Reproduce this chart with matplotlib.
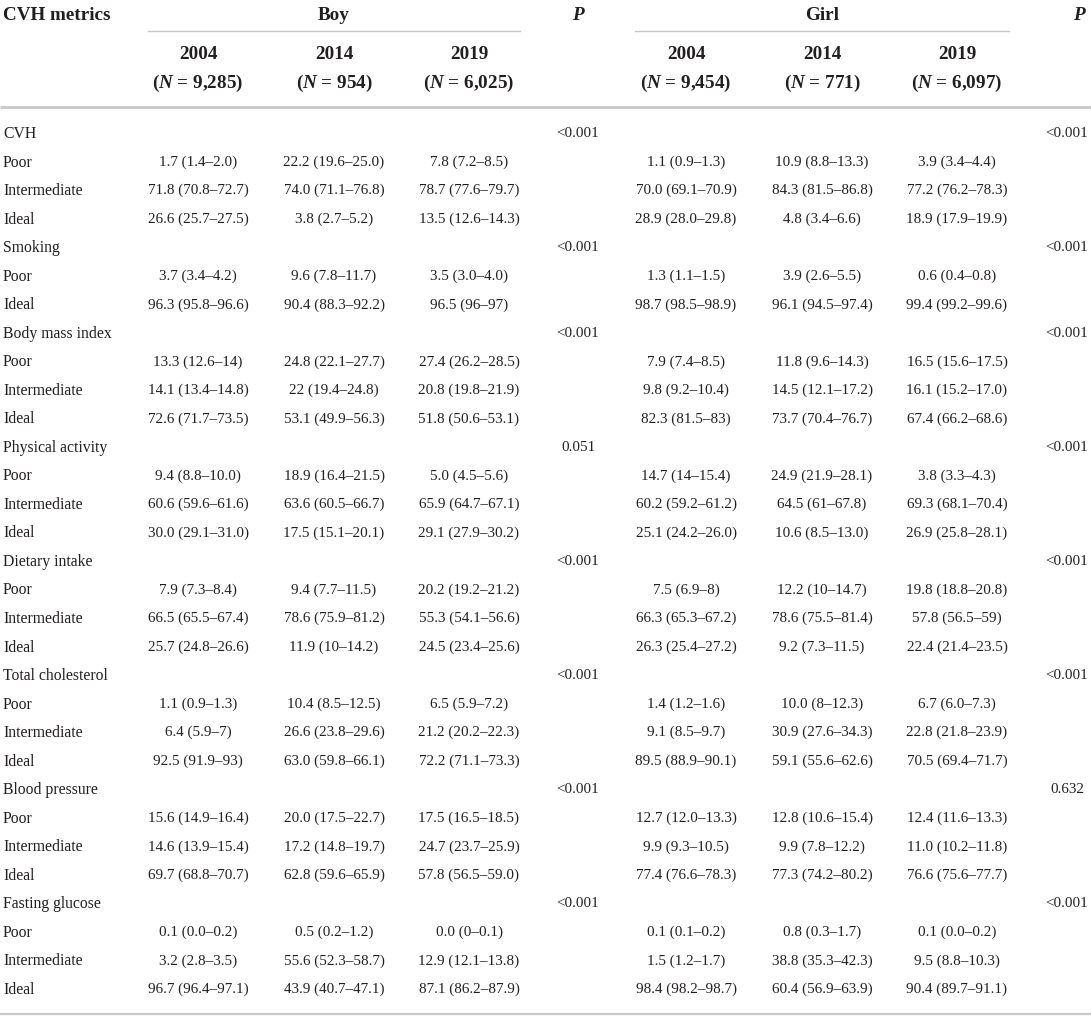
"""CVH metrics by sex and survey year, drawn as a plain text table."""
import matplotlib
matplotlib.use("Agg")
import matplotlib.pyplot as plt

plt.rcParams.update({"font.family": "Liberation Serif",
                     "mathtext.fontset": "custom",
                     "mathtext.it": "Liberation Serif:italic:bold",
                     "mathtext.rm": "Liberation Serif:bold"})

# ---------------- data ----------------
metrics = ["CVH", "Smoking", "Body mass index", "Physical activity",
           "Dietary intake", "Total cholesterol", "Blood pressure", "Fasting glucose"]
levels = [["Poor", "Intermediate", "Ideal"], ["Poor", "Ideal"]] + \
         [["Poor", "Intermediate", "Ideal"]] * 6
p_boy  = ["<0.001", "<0.001", "<0.001", "0.051", "<0.001", "<0.001", "<0.001", "<0.001"]
p_girl = ["<0.001", "<0.001", "<0.001", "<0.001", "<0.001", "<0.001", "0.632", "<0.001"]

years = ["2004", "2014", "2019"]
n_boy  = ["9,285", "954", "6,025"]
n_girl = ["9,454", "771", "6,097"]

boy_2004 = ["1.7 (1.4–2.0)", "71.8 (70.8–72.7)", "26.6 (25.7–27.5)",
            "3.7 (3.4–4.2)", "96.3 (95.8–96.6)",
            "13.3 (12.6–14)", "14.1 (13.4–14.8)", "72.6 (71.7–73.5)",
            "9.4 (8.8–10.0)", "60.6 (59.6–61.6)", "30.0 (29.1–31.0)",
            "7.9 (7.3–8.4)", "66.5 (65.5–67.4)", "25.7 (24.8–26.6)",
            "1.1 (0.9–1.3)", "6.4 (5.9–7)", "92.5 (91.9–93)",
            "15.6 (14.9–16.4)", "14.6 (13.9–15.4)", "69.7 (68.8–70.7)",
            "0.1 (0.0–0.2)", "3.2 (2.8–3.5)", "96.7 (96.4–97.1)"]
boy_2014 = ["22.2 (19.6–25.0)", "74.0 (71.1–76.8)", "3.8 (2.7–5.2)",
            "9.6 (7.8–11.7)", "90.4 (88.3–92.2)",
            "24.8 (22.1–27.7)", "22 (19.4–24.8)", "53.1 (49.9–56.3)",
            "18.9 (16.4–21.5)", "63.6 (60.5–66.7)", "17.5 (15.1–20.1)",
            "9.4 (7.7–11.5)", "78.6 (75.9–81.2)", "11.9 (10–14.2)",
            "10.4 (8.5–12.5)", "26.6 (23.8–29.6)", "63.0 (59.8–66.1)",
            "20.0 (17.5–22.7)", "17.2 (14.8–19.7)", "62.8 (59.6–65.9)",
            "0.5 (0.2–1.2)", "55.6 (52.3–58.7)", "43.9 (40.7–47.1)"]
boy_2019 = ["7.8 (7.2–8.5)", "78.7 (77.6–79.7)", "13.5 (12.6–14.3)",
            "3.5 (3.0–4.0)", "96.5 (96–97)",
            "27.4 (26.2–28.5)", "20.8 (19.8–21.9)", "51.8 (50.6–53.1)",
            "5.0 (4.5–5.6)", "65.9 (64.7–67.1)", "29.1 (27.9–30.2)",
            "20.2 (19.2–21.2)", "55.3 (54.1–56.6)", "24.5 (23.4–25.6)",
            "6.5 (5.9–7.2)", "21.2 (20.2–22.3)", "72.2 (71.1–73.3)",
            "17.5 (16.5–18.5)", "24.7 (23.7–25.9)", "57.8 (56.5–59.0)",
            "0.0 (0–0.1)", "12.9 (12.1–13.8)", "87.1 (86.2–87.9)"]
girl_2004 = ["1.1 (0.9–1.3)", "70.0 (69.1–70.9)", "28.9 (28.0–29.8)",
             "1.3 (1.1–1.5)", "98.7 (98.5–98.9)",
             "7.9 (7.4–8.5)", "9.8 (9.2–10.4)", "82.3 (81.5–83)",
             "14.7 (14–15.4)", "60.2 (59.2–61.2)", "25.1 (24.2–26.0)",
             "7.5 (6.9–8)", "66.3 (65.3–67.2)", "26.3 (25.4–27.2)",
             "1.4 (1.2–1.6)", "9.1 (8.5–9.7)", "89.5 (88.9–90.1)",
             "12.7 (12.0–13.3)", "9.9 (9.3–10.5)", "77.4 (76.6–78.3)",
             "0.1 (0.1–0.2)", "1.5 (1.2–1.7)", "98.4 (98.2–98.7)"]
girl_2014 = ["10.9 (8.8–13.3)", "84.3 (81.5–86.8)", "4.8 (3.4–6.6)",
             "3.9 (2.6–5.5)", "96.1 (94.5–97.4)",
             "11.8 (9.6–14.3)", "14.5 (12.1–17.2)", "73.7 (70.4–76.7)",
             "24.9 (21.9–28.1)", "64.5 (61–67.8)", "10.6 (8.5–13.0)",
             "12.2 (10–14.7)", "78.6 (75.5–81.4)", "9.2 (7.3–11.5)",
             "10.0 (8–12.3)", "30.9 (27.6–34.3)", "59.1 (55.6–62.6)",
             "12.8 (10.6–15.4)", "9.9 (7.8–12.2)", "77.3 (74.2–80.2)",
             "0.8 (0.3–1.7)", "38.8 (35.3–42.3)", "60.4 (56.9–63.9)"]
girl_2019 = ["3.9 (3.4–4.4)", "77.2 (76.2–78.3)", "18.9 (17.9–19.9)",
             "0.6 (0.4–0.8)", "99.4 (99.2–99.6)",
             "16.5 (15.6–17.5)", "16.1 (15.2–17.0)", "67.4 (66.2–68.6)",
             "3.8 (3.3–4.3)", "69.3 (68.1–70.4)", "26.9 (25.8–28.1)",
             "19.8 (18.8–20.8)", "57.8 (56.5–59)", "22.4 (21.4–23.5)",
             "6.7 (6.0–7.3)", "22.8 (21.8–23.9)", "70.5 (69.4–71.7)",
             "12.4 (11.6–13.3)", "11.0 (10.2–11.8)", "76.6 (75.6–77.7)",
             "0.1 (0.0–0.2)", "9.5 (8.8–10.3)", "90.4 (89.7–91.1)"]

# ---------------- layout (pixel units) ----------------
W, H = 1091, 1019
X_LABEL = 3
X_BOY = [198, 334, 469]
X_GIRL = [686, 822, 957]
X_PB, X_PG = 578, 1067
ROW0, ROWH = 132, 28.53
TXT = "#231f20"
LINE = "#c8c8c8"
FS_HEAD, FS_BODY, FS_LAB = 13.8, 10.9, 11.3

fig = plt.figure(figsize=(W / 100, H / 100), dpi=100)
ax = fig.add_axes([0, 0, 1, 1])
ax.set_xlim(0, W); ax.set_ylim(H, 0); ax.axis("off")

def txt(x, y, s, ha="center", size=FS_BODY, **kw):
    ax.text(x, y, s, ha=ha, va="center_baseline", fontsize=size, color=TXT, **kw)

# header
txt(X_LABEL, 13, "CVH metrics", ha="left", size=FS_HEAD, weight="bold")
txt(X_BOY[1], 13, "Boy", size=FS_HEAD, weight="bold")
txt(X_GIRL[1], 13, "Girl", size=FS_HEAD, weight="bold")
for xp in (X_PB, 1079):
    txt(xp, 13, "P", size=FS_HEAD, weight="bold", style="italic")
ax.plot([148, 520], [31, 31], color=LINE, lw=1.0)
ax.plot([635, 1009], [31, 31], color=LINE, lw=1.0)
for xs, ns in ((X_BOY, n_boy), (X_GIRL, n_girl)):
    for x, yr, n in zip(xs, years, ns):
        txt(x, 52, yr, size=FS_HEAD, weight="bold")
        txt(x, 80, "($N$ = " + n + ")", size=FS_HEAD, weight="bold")
ax.plot([0, W], [107, 107], color=LINE, lw=2.0, solid_capstyle="butt")

# body
row, k = 0, 0
for m, lv, pb, pg in zip(metrics, levels, p_boy, p_girl):
    y = ROW0 + row * ROWH
    txt(X_LABEL, y, m, ha="left", size=FS_LAB)
    txt(X_PB, y, pb)
    txt(X_PG, y, pg)
    row += 1
    for name in lv:
        y = ROW0 + row * ROWH
        txt(X_LABEL, y, name, ha="left", size=FS_LAB)
        for x, col in zip(X_BOY, (boy_2004, boy_2014, boy_2019)):
            txt(x, y, col[k])
        for x, col in zip(X_GIRL, (girl_2004, girl_2014, girl_2019)):
            txt(x, y, col[k])
        row += 1; k += 1

ax.plot([0, W], [1014, 1014], color=LINE, lw=1.6, solid_capstyle="butt")

fig.savefig("out.png", dpi=100)
